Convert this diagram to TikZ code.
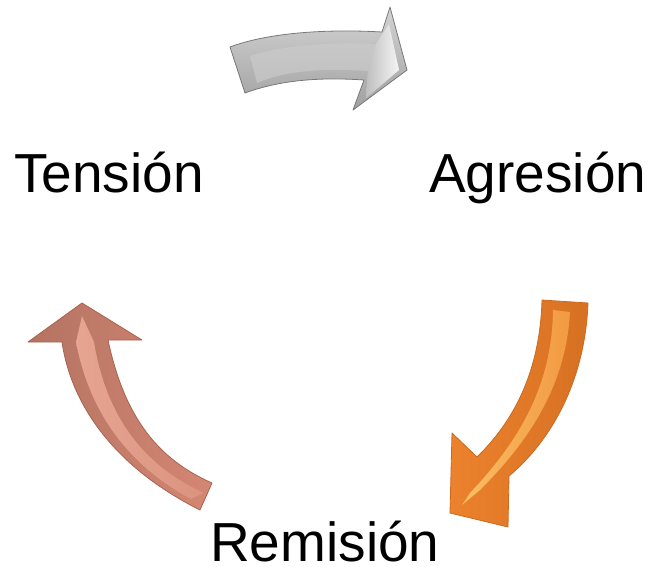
\documentclass[tikz,border=0pt]{standalone}
\usepackage{fontspec}
\setmainfont{Liberation Sans}
\begin{document}
\begin{tikzpicture}[x=1pt,y=-1pt,
  lbl/.style={font=\fontsize{55}{61}\selectfont, inner sep=0pt, anchor=base west},
  edge/.style={line width=0.8pt, line join=round}]
\useasboundingbox (0,0) rectangle (649,566);
\definecolor{grayA}{RGB}{160,160,160}
\definecolor{grayB}{RGB}{212,212,212}
\definecolor{grayC}{RGB}{190,190,190}
\definecolor{grayD}{RGB}{120,120,120}
\definecolor{orA}{RGB}{236,130,45}
\definecolor{orB}{RGB}{250,190,100}
\definecolor{orD}{RGB}{205,105,30}
\definecolor{pkA}{RGB}{212,135,115}
\definecolor{pkB}{RGB}{230,165,145}
\definecolor{pkD}{RGB}{170,98,82}
% grey arrow
\path[edge, draw=grayD, top color=grayB, bottom color=grayA]
  (230,47) .. controls (270,32) and (330,29) .. (382,32) -- (390,7) -- (407,70) -- (353,110) -- (364,80)
  .. controls (320,77) and (280,80) .. (245,93) -- cycle;
\path[top color=grayC!80!white, bottom color=grayC]
  (250,56) .. controls (285,45) and (330,42) .. (376,44) -- (389,24) -- (399,70) -- (366,98) -- (368,71)
  .. controls (320,68) and (285,71) .. (257,83) -- cycle;
\path[left color=grayC, right color=white!92!gray]
  (376,44) -- (389,24) -- (399,70) -- (366,98) -- (368,71) -- cycle;
% orange arrow
\path[edge, draw=orD, left color=orA, right color=orD!70!orA]
  (542,300) -- (588,303) .. controls (585,380) and (552,440) .. (509,476) -- (508,527) -- (450,513) -- (452,433) -- (477,457)
  .. controls (515,420) and (540,370) .. cycle;
\path[left color=orB, right color=orA!60!orB]
  (553,310) -- (570,312) .. controls (566,385) and (530,440) .. (480,490) -- (462,505) -- (470,493)
  .. controls (520,440) and (552,385) .. cycle;
% pink arrow
\path[edge, draw=pkD, left color=pkA!85!black, right color=pkA]
  (82,303) -- (142,340) -- (108,340) .. controls (125,420) and (160,460) .. (212,483) -- (200,510)
  .. controls (120,470) and (72,410) .. (62,342) -- (28,342) -- cycle;
\path[left color=pkB, right color=pkA!60!pkB]
  (82,316) -- (94,342) .. controls (106,415) and (142,465) .. (204,493) -- (191,499)
  .. controls (130,466) and (90,415) .. (76,342) -- cycle;
% labels
\node[lbl] (tension) at (14,192) {Tensión};
\node[lbl] (agresion) at (429,192) {Agresión};
\node[lbl] (remision) at (210,561) {Remisión};
\end{tikzpicture}
\end{document}
